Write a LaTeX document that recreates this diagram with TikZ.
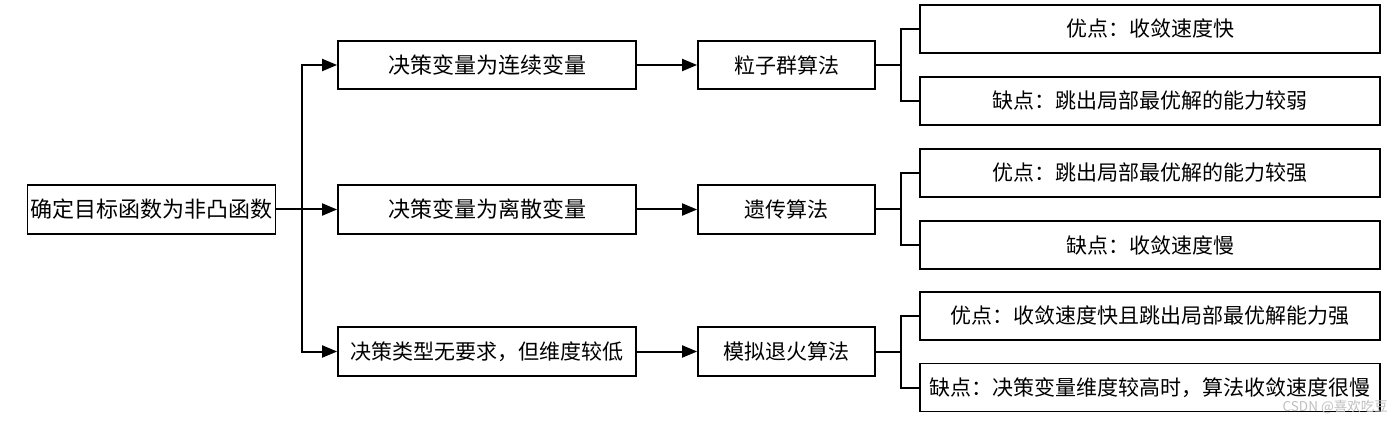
\documentclass[tikz,border=0pt]{standalone}
\usepackage{fontspec}
\setmainfont{Noto Sans CJK SC}
\usetikzlibrary{arrows.meta}
\begin{document}
\begin{tikzpicture}[x=1pt,y=-1pt,
  box/.style={draw=black,line width=1.8pt,rectangle,inner sep=0pt,minimum height=48.5pt,text=black},
  big/.style={font=\fontsize{22}{22}\selectfont},
  small/.style={font=\fontsize{21}{21}\selectfont},
  rootbox/.style={box,big,minimum width=248pt},
  midbox/.style={box,minimum width=298pt},
  algbox/.style={box,small,minimum width=177pt},
  resbox/.style={box,small,minimum width=460pt,minimum height=48pt},
  arr/.style={line width=2pt,-{Triangle[length=15pt,width=12pt]}},
  ln/.style={line width=2pt}]
\useasboundingbox (0,0) rectangle (1400,422);
\fill[white] (0,0) rectangle (1400,422);
% root
\node[rootbox] (root) at (151.5,209.5) {确定目标函数为非凸函数};
% middle column
\node[midbox,big] (m1) at (487,65) {决策变量为连续变量};
\node[midbox,big] (m2) at (487,209.5) {决策变量为离散变量};
\node[midbox,small] (m3) at (487,351.5) {决策类型无要求，但维度较低};
% algorithms
\node[algbox] (a1) at (786.5,65) {粒子群算法};
\node[algbox] (a2) at (786.5,209.5) {遗传算法};
\node[algbox] (a3) at (786.5,351.5) {模拟退火算法};
% results
\node[resbox] (r1) at (1150,29) {优点：收敛速度快};
\node[resbox] (r2) at (1150,101) {缺点：跳出局部最优解的能力较弱};
\node[resbox] (r3) at (1150,173) {优点：跳出局部最优解的能力较强};
\node[resbox] (r4) at (1150,245) {缺点：收敛速度慢};
\node[resbox] (r5) at (1150,316) {优点：收敛速度快且跳出局部最优解能力强};
\node[resbox] (r6) at (1150,387.5) {缺点：决策变量维度较高时，算法收敛速度很慢};
% trunk
\coordinate (tk) at (302,209.5);
\draw[arr] (root.east) -- (m2.west);
\draw[arr] (tk) |- (m1.west);
\draw[arr] (tk) |- (m3.west);
% mid to alg
\draw[arr] (m1.east) -- (a1.west);
\draw[arr] (m2.east) -- (a2.west);
\draw[arr] (m3.east) -- (a3.west);
% alg to results
\coordinate (b1) at (901,65);
\coordinate (b2) at (901,209.5);
\coordinate (b3) at (901,351.5);
\draw[ln] (a1.east) -- (b1);
\draw[ln] (r1.west) -| (b1) |- (r2.west);
\draw[ln] (a2.east) -- (b2);
\draw[ln] (r3.west) -| (b2) |- (r4.west);
\draw[ln] (a3.east) -- (b3);
\draw[ln] (r5.west) -| (b3) |- (r6.west);
% watermark
\node[text=gray!50,font=\fontsize{13.5}{13.5}\selectfont,anchor=east,inner sep=0pt] (wm) at (1388,407) {CSDN @喜欢吃豆};
\end{tikzpicture}
\end{document}
